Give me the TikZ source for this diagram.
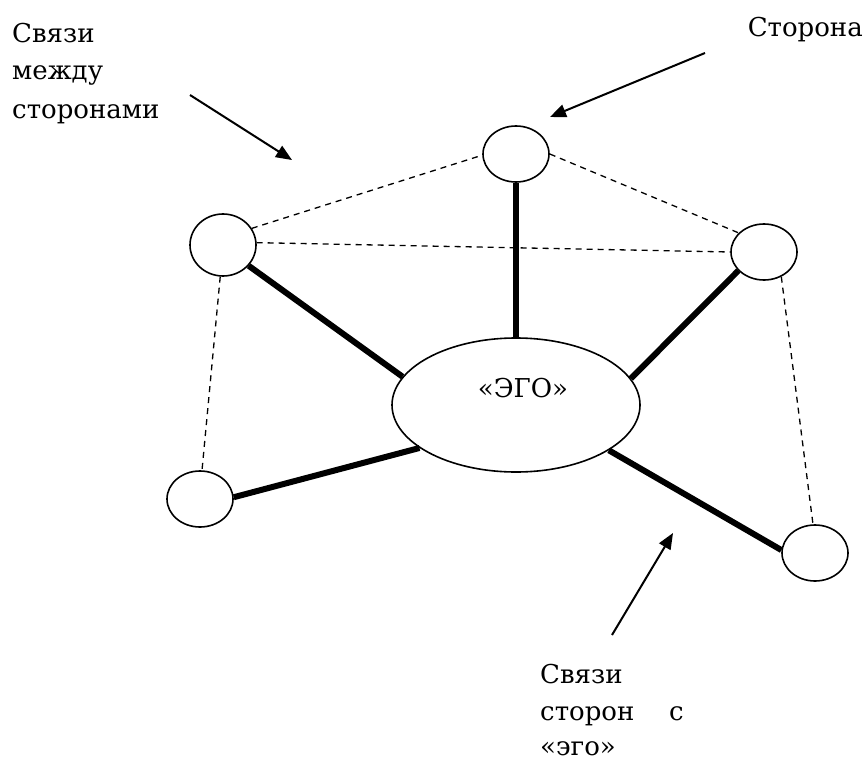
\documentclass[tikz,border=0pt]{standalone}
\usepackage{fontspec}
\newfontfamily\labelfont{DejaVu Serif}
\usetikzlibrary{shapes.geometric,arrows.meta}
\begin{document}
\begin{tikzpicture}[x=1pt,y=-1pt,
  party/.style={ellipse,draw,line width=1.6pt,minimum width=66pt,minimum height=56pt,inner sep=0pt},
  egonode/.style={ellipse,draw,line width=1.6pt,minimum width=248pt,minimum height=134pt,inner sep=0pt},
  tie/.style={line width=6pt},
  weak/.style={line width=1.3pt,dash pattern=on 6pt off 5pt},
  pointer/.style={line width=2pt,-{Triangle[length=16pt,width=13pt]}},
  lbl/.style={inner sep=0pt,anchor=base west,font=\labelfont\fontsize{26}{37.5}\selectfont}]
\useasboundingbox (0,0) rectangle (867,760);
% nodes
\node[egonode] (E) at (516,405) {};
\node[lbl,anchor=base] (egotext) at (523,397) {«ЭГО»};
\node[party] (T) at (516,154) {};
\node[party,minimum height=62pt] (L) at (223,245) {};
\node[party] (R) at (764,252) {};
\node[party] (BL) at (200,499) {};
\node[party] (BR) at (815,553) {};
% strong ties
\draw[tie] (T.south) -- (E.north);
\draw[tie] (L.-39) -- (E.166);
\draw[tie] (R.-144) -- (E.13);
\draw[tie] (BL.3) -- (E.204);
\draw[tie] (BR.175) -- (E.-26);
% weak ties
\draw[weak] (L.30) -- (T.182);
\draw[weak] (L.4) -- (R.180);
\draw[weak] (T.0) -- (R.143);
\draw[weak] (L.-95) -- (BL.86);
\draw[weak] (R.-55) -- (BR.94);
% labels
\node[lbl] (lab1a) at (12,43) {Связи};
\node[lbl] (lab1b) at (12,80) {между};
\node[lbl] (lab1c) at (12,118) {сторонами};
\node[lbl,anchor=base east] (lab2) at (863,37) {Сторона};
\node[lbl] (lab3a) at (540,683) {Связи};
\node[lbl] (lab3b) at (540,720) {сторон};
\node[lbl,anchor=base east] (lab3c) at (684,720) {с};
\node[lbl] (lab3d) at (540,755) {«эго»};
% pointer arrows
\coordinate (a1s) at (190,95);
\coordinate (a1e) at (292,160);
\coordinate (a2s) at (705,53);
\coordinate (a2e) at (550,117);
\coordinate (a3s) at (612,635);
\coordinate (a3e) at (673,533);
\draw[pointer] (a1s) -- (a1e);
\draw[pointer] (a2s) -- (a2e);
\draw[pointer] (a3s) -- (a3e);
\end{tikzpicture}
\end{document}
